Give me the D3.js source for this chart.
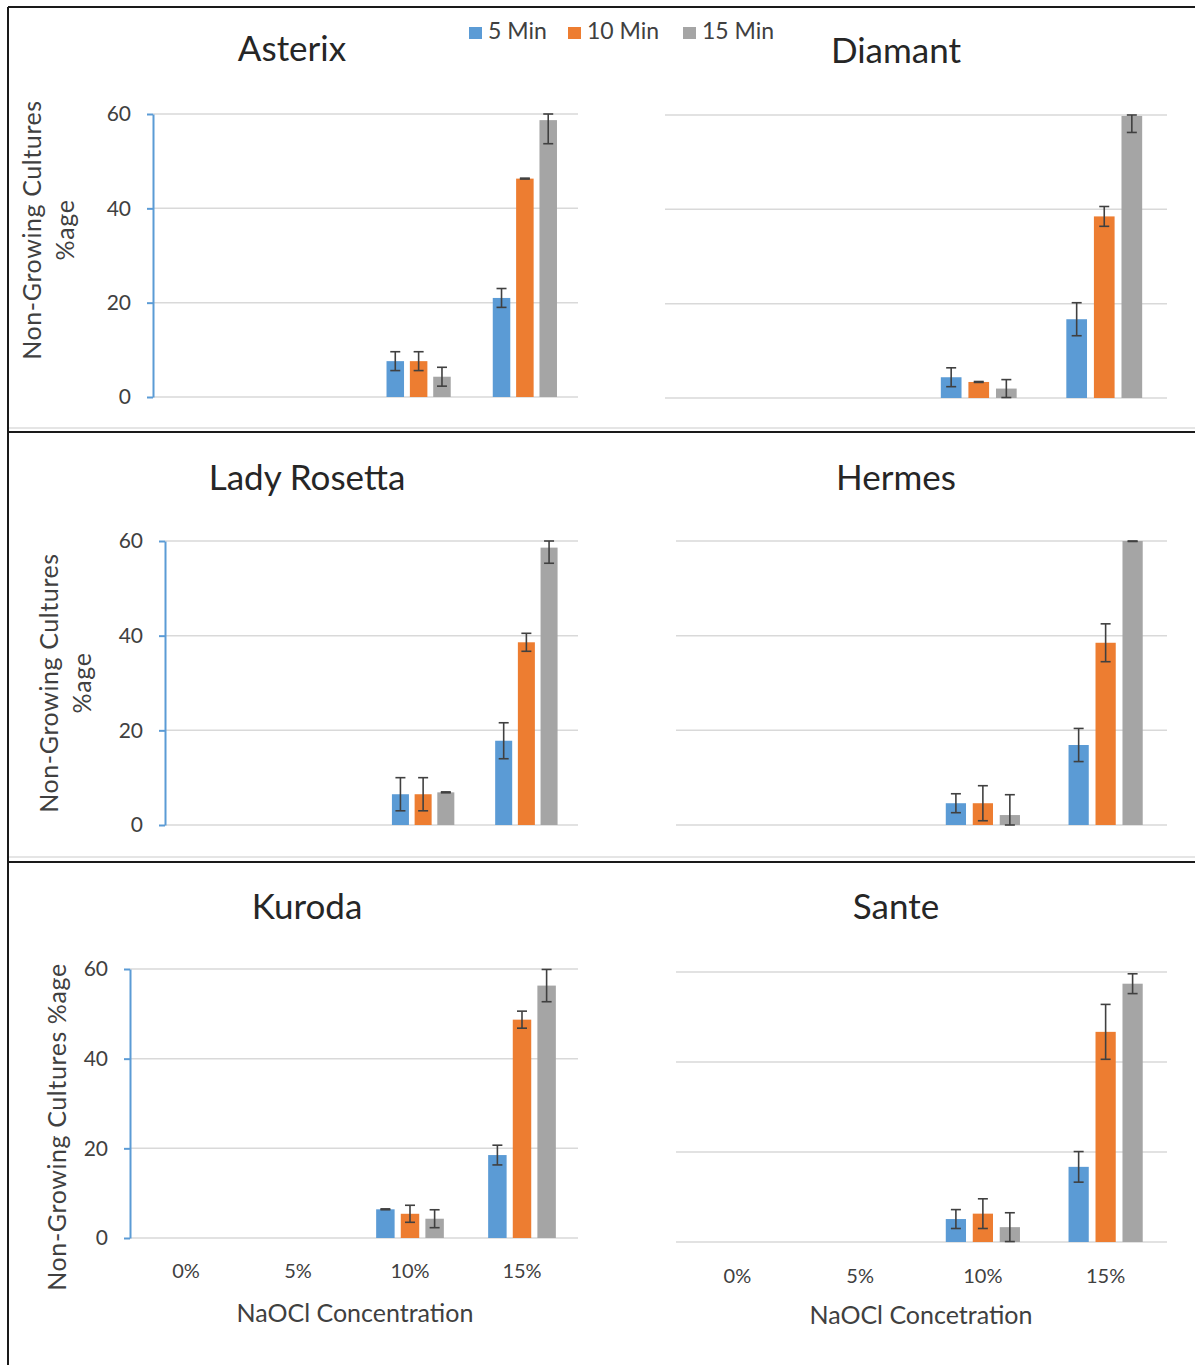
<!DOCTYPE html>
<html>
<head>
<meta charset="utf-8">
<script src="https://cdn.jsdelivr.net/npm/d3@7"></script>
<style>
  body { margin: 0; background: #fff; }
  svg text { font-family: Lato, "Open Sans", sans-serif; }
</style>
</head>
<body>
<div id="chart"></div>
<script>
// 1: DATA
const categories = ["0%", "5%", "10%", "15%"];
const seriesNames = ["5 Min", "10 Min", "15 Min"];
const yTicks = [0, 20, 40, 60];

// one row per series (5, 10, 15 Min), one value per NaOCl concentration
const asterixValues = [[0, 0, 7.6, 21.0], [0, 0, 7.6, 46.3], [0, 0, 4.3, 58.7]];
const asterixErrors = [[0, 0, 2.0, 2.0], [0, 0, 2.0, 0.1], [0, 0, 2.0, 5.0]];

const diamantValues = [[0, 0, 4.4, 16.7], [0, 0, 3.4, 38.5], [0, 0, 2.0, 59.8]];
const diamantErrors = [[0, 0, 2.0, 3.5], [0, 0, 0.1, 2.1], [0, 0, 1.9, 3.5]];

const ladyRosettaValues = [[0, 0, 6.5, 17.8], [0, 0, 6.5, 38.6], [0, 0, 6.9, 58.6]];
const ladyRosettaErrors = [[0, 0, 3.5, 3.8], [0, 0, 3.5, 1.9], [0, 0, 0.1, 3.3]];

const hermesValues = [[0, 0, 4.6, 16.9], [0, 0, 4.6, 38.5], [0, 0, 2.1, 60.0]];
const hermesErrors = [[0, 0, 2.0, 3.5], [0, 0, 3.7, 4.0], [0, 0, 4.3, 0.1]];

const kurodaValues = [[0, 0, 6.4, 18.5], [0, 0, 5.4, 48.7], [0, 0, 4.3, 56.3]];
const kurodaErrors = [[0, 0, 0.1, 2.2], [0, 0, 1.9, 1.9], [0, 0, 2.0, 3.6]];

const santeValues = [[0, 0, 5.1, 16.7], [0, 0, 6.3, 46.7], [0, 0, 3.3, 57.4]];
const santeErrors = [[0, 0, 2.1, 3.4], [0, 0, 3.3, 6.1], [0, 0, 3.2, 2.2]];

const colors = ["#5B9BD5", "#ED7D31", "#A5A5A5"];

// 2: LAYOUT
const W = 1195, H = 1365;
const svg = d3.select("#chart").append("svg")
    .attr("width", W)
    .attr("height", H);

const panels = [
    { title: "Asterix", values: asterixValues, errors: asterixErrors,
      x0: 153, x1: 578, yTop: 114, yBot: 397, tx: 292, ty: 52,
      axis: true, yTitle: [["Non-Growing Cultures", 35], ["%age", 68]], yTitleY: 230 },
    { title: "Diamant", values: diamantValues, errors: diamantErrors,
      x0: 665, x1: 1167, yTop: 115, yBot: 398, tx: 896, ty: 54 },
    { title: "Lady Rosetta", values: ladyRosettaValues, errors: ladyRosettaErrors,
      x0: 165, x1: 578, yTop: 541, yBot: 825, tx: 307, ty: 481,
      axis: true, yTitle: [["Non-Growing Cultures", 52], ["%age", 85]], yTitleY: 683 },
    { title: "Hermes", values: hermesValues, errors: hermesErrors,
      x0: 676, x1: 1167, yTop: 541, yBot: 825, tx: 896, ty: 481 },
    { title: "Kuroda", values: kurodaValues, errors: kurodaErrors,
      x0: 130, x1: 578, yTop: 969, yBot: 1238, tx: 307, ty: 910,
      axis: true, yTitle: [["Non-Growing Cultures   %age", 60]], yTitleY: 1127,
      xLabelY: 1273, xTitle: "NaOCl Concentration", xtx: 355, xty: 1316 },
    { title: "Sante", values: santeValues, errors: santeErrors,
      x0: 676, x1: 1167, yTop: 972, yBot: 1242, tx: 896, ty: 910,
      xLabelY: 1278, xTitle: "NaOCl Concetration", xtx: 921, xty: 1318 }
];

// frame lines
const frame = svg.append("g").attr("stroke", "#1a1a1a").attr("stroke-width", 2);
frame.append("line").attr("x1", 8).attr("x2", 8).attr("y1", 7).attr("y2", H);
frame.append("line").attr("x1", 8).attr("x2", W).attr("y1", 7).attr("y2", 7);
frame.append("line").attr("x1", 8).attr("x2", W).attr("y1", 432).attr("y2", 432);
frame.append("line").attr("x1", 8).attr("x2", W).attr("y1", 862).attr("y2", 862);
svg.append("g").attr("stroke", "#dcdcdc").attr("stroke-width", 1.5)
    .selectAll("line").data([428, 857]).join("line")
    .attr("x1", 9).attr("x2", W).attr("y1", d => d).attr("y2", d => d);

// 3: DRAW PANELS
panels.forEach(p => {
    const g = svg.append("g");

    const x = d3.scaleBand().domain(categories).range([p.x0, p.x1]);
    const xSub = d3.scaleBand().domain(seriesNames)
        .range([0, x.bandwidth()])
        .paddingInner(0.25)
        .paddingOuter(0.9);
    const y = d3.scaleLinear().domain([0, 60]).range([p.yBot, p.yTop]).clamp(true);

    // gridlines
    g.append("g").selectAll("line").data(yTicks).join("line")
        .attr("x1", p.x0).attr("x2", p.x1)
        .attr("y1", d => y(d)).attr("y2", d => y(d))
        .attr("stroke", "#d9d9d9")
        .attr("stroke-width", 1.5);

    if (p.axis) {
        const ax = g.append("g")
            .attr("transform", `translate(${p.x0},0)`)
            .call(d3.axisLeft(y).tickValues(yTicks).tickSize(6).tickSizeOuter(0).tickPadding(16));
        ax.select(".domain").attr("stroke", "#5B9BD5").attr("stroke-width", 2);
        ax.selectAll(".tick line").attr("stroke", "#5B9BD5").attr("stroke-width", 2);
        ax.selectAll(".tick text")
            .attr("font-size", 21)
            .attr("fill", "#404040")
            .style("font-family", "Lato, 'Open Sans', sans-serif");

        p.yTitle.forEach(([label, tx]) => {
            g.append("text")
                .attr("transform", `translate(${tx},${p.yTitleY}) rotate(-90)`)
                .attr("text-anchor", "middle")
                .attr("dominant-baseline", "middle")
                .attr("font-size", 25)
                .attr("letter-spacing", 0.6)
                .attr("fill", "#404040")
                .text(label);
        });
    }

    // bars
    const rows = [];
    p.values.forEach((vals, si) => {
        vals.forEach((v, ci) => {
            rows.push({ s: seriesNames[si], si, c: categories[ci], v, e: p.errors[si][ci] });
        });
    });

    g.append("g").selectAll("rect").data(rows).join("rect")
        .attr("x", d => x(d.c) + xSub(d.s))
        .attr("width", xSub.bandwidth())
        .attr("y", d => y(d.v))
        .attr("height", d => y(0) - y(d.v))
        .attr("fill", d => colors[d.si]);

    // error bars
    const eb = g.append("g")
        .attr("stroke", "#404040")
        .attr("stroke-width", 1.6)
        .selectAll("g").data(rows.filter(d => d.v > 0)).join("g")
        .attr("transform", d => `translate(${x(d.c) + xSub(d.s) + xSub.bandwidth() / 2},0)`);
    eb.append("line")
        .attr("y1", d => y(d.v - d.e)).attr("y2", d => y(d.v + d.e));
    eb.append("line")
        .attr("x1", -5).attr("x2", 5)
        .attr("y1", d => y(d.v + d.e)).attr("y2", d => y(d.v + d.e));
    eb.append("line")
        .attr("x1", -5).attr("x2", 5)
        .attr("y1", d => y(d.v - d.e)).attr("y2", d => y(d.v - d.e));

    // panel title
    g.append("text")
        .attr("x", p.tx).attr("y", p.ty)
        .attr("text-anchor", "middle")
        .attr("dominant-baseline", "middle")
        .attr("font-size", 35)
        .attr("fill", "#262626")
        .text(p.title);

    // category labels + x title on the bottom row
    if (p.xTitle) {
        g.append("g").selectAll("text").data(categories).join("text")
            .attr("x", d => x(d) + x.bandwidth() / 2)
            .attr("y", p.xLabelY)
            .attr("text-anchor", "middle")
            .attr("dominant-baseline", "middle")
            .attr("font-size", 20)
            .attr("fill", "#404040")
            .text(d => d);
        g.append("text")
            .attr("x", p.xtx).attr("y", p.xty)
            .attr("text-anchor", "middle")
            .attr("dominant-baseline", "middle")
            .attr("font-size", 25)
            .attr("fill", "#404040")
            .text(p.xTitle);
    }
});

// 4: LEGEND
const legendX = [469, 568, 683];
const legend = svg.append("g").selectAll("g").data(seriesNames).join("g")
    .attr("transform", (d, i) => `translate(${legendX[i]},27)`);
legend.append("rect")
    .attr("width", 13).attr("height", 12)
    .attr("fill", (d, i) => colors[i]);
legend.append("text")
    .attr("x", 19).attr("y", 6)
    .attr("dominant-baseline", "middle")
    .attr("font-size", 23)
    .attr("fill", "#404040")
    .text(d => d);
</script>
</body>
</html>
